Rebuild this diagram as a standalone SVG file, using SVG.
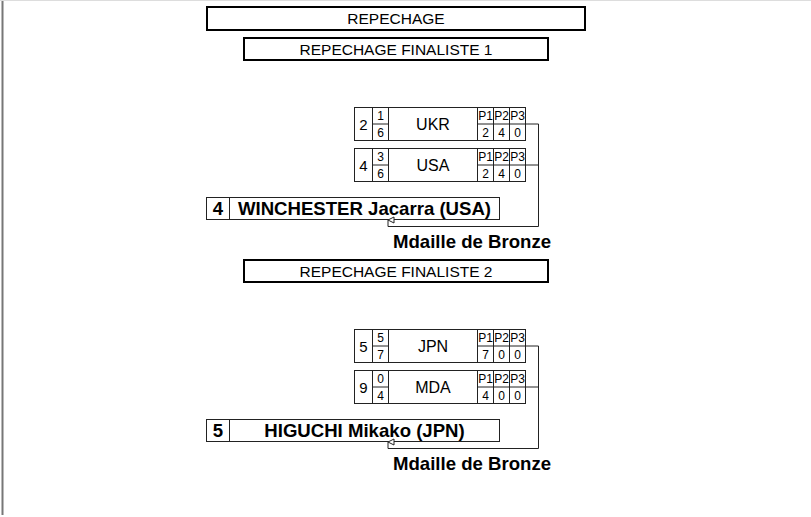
<svg xmlns="http://www.w3.org/2000/svg" width="811" height="517" viewBox="0 0 811 517">
<style>
.hdr{fill:#fff;stroke:#000;stroke-width:2}
.cell{fill:#fff;stroke:#222;stroke-width:1}
.t{font-family:"Liberation Sans",Arial,sans-serif;fill:#000;text-anchor:middle}
.h{font-size:15.5px}
.seed{font-size:15px}
.fr{font-size:12px}
.cty{font-size:16px}
.p{font-size:12px}
.nm{font-size:18.6px;font-weight:bold}
.conn{fill:none;stroke:#222;stroke-width:1}
</style>
<defs>
<marker id="arr" viewBox="0 0 8 8" refX="4" refY="1" markerWidth="8" markerHeight="8" markerUnits="userSpaceOnUse" orient="auto-start-reverse">
<path d="M1,7 L4,1 L7,7 Z" fill="#fff" stroke="#222" stroke-width="1"/>
</marker>
</defs>
<rect x="0" y="0" width="811" height="517" fill="#fff"/>
<line x1="0" y1="0.5" x2="811" y2="0.5" stroke="#ddd" stroke-width="1"/>
<line x1="2.5" y1="1" x2="2.5" y2="515" stroke="#777" stroke-width="2"/>

<g id="title">
<rect class="hdr" x="207" y="7" width="378" height="23"/>
<text class="t h" x="396" y="24">REPECHAGE</text>
</g>
<g id="header1">
<rect class="hdr" x="244" y="38" width="304" height="22"/>
<text class="t h" x="396" y="55">REPECHAGE FINALISTE 1</text>
</g>

<g id="ukr">
<rect class="cell" x="354.5" y="107.5" width="18" height="33"/>
<rect class="cell" x="372.5" y="107.5" width="16" height="33"/>
<line class="cell" x1="372.5" y1="124" x2="388.5" y2="124"/>
<rect class="cell" x="388.5" y="107.5" width="89" height="33"/>
<rect class="cell" x="477.5" y="107.5" width="16" height="33"/>
<rect class="cell" x="493.5" y="107.5" width="16" height="33"/>
<rect class="cell" x="509.5" y="107.5" width="16" height="33"/>
<line class="cell" x1="477.5" y1="124" x2="525.5" y2="124"/>
<text class="t seed" x="363.5" y="129.5">2</text>
<text class="t fr" x="380.5" y="120">1</text>
<text class="t fr" x="380.5" y="137">6</text>
<text class="t cty" x="433" y="130">UKR</text>
<text class="t p" x="485.5" y="120">P1</text>
<text class="t p" x="501.5" y="120">P2</text>
<text class="t p" x="517.5" y="120">P3</text>
<text class="t p" x="485.5" y="137">2</text>
<text class="t p" x="501.5" y="137">4</text>
<text class="t p" x="517.5" y="137">0</text>
</g>

<g id="usa">
<rect class="cell" x="354.5" y="148.5" width="18" height="33"/>
<rect class="cell" x="372.5" y="148.5" width="16" height="33"/>
<line class="cell" x1="372.5" y1="165" x2="388.5" y2="165"/>
<rect class="cell" x="388.5" y="148.5" width="89" height="33"/>
<rect class="cell" x="477.5" y="148.5" width="16" height="33"/>
<rect class="cell" x="493.5" y="148.5" width="16" height="33"/>
<rect class="cell" x="509.5" y="148.5" width="16" height="33"/>
<line class="cell" x1="477.5" y1="165" x2="525.5" y2="165"/>
<text class="t seed" x="363.5" y="170.5">4</text>
<text class="t fr" x="380.5" y="161">3</text>
<text class="t fr" x="380.5" y="178">6</text>
<text class="t cty" x="433" y="171">USA</text>
<text class="t p" x="485.5" y="161">P1</text>
<text class="t p" x="501.5" y="161">P2</text>
<text class="t p" x="517.5" y="161">P3</text>
<text class="t p" x="485.5" y="178">2</text>
<text class="t p" x="501.5" y="178">4</text>
<text class="t p" x="517.5" y="178">0</text>
</g>

<g id="winner1">
<rect class="cell" x="206.5" y="197.5" width="293" height="22"/>
<line class="cell" x1="229.5" y1="197.5" x2="229.5" y2="219.5"/>
<text class="t nm" x="218" y="215">4</text>
<text class="t nm" x="364.5" y="215">WINCHESTER Jacarra (USA)</text>
</g>
<g id="bronze1">
<text class="t nm" x="472" y="248">Mdaille de Bronze</text>
</g>

<g id="header2">
<rect class="hdr" x="244" y="260" width="304" height="22"/>
<text class="t h" x="396" y="277">REPECHAGE FINALISTE 2</text>
</g>

<g id="jpn">
<rect class="cell" x="354.5" y="329.5" width="18" height="33"/>
<rect class="cell" x="372.5" y="329.5" width="16" height="33"/>
<line class="cell" x1="372.5" y1="346" x2="388.5" y2="346"/>
<rect class="cell" x="388.5" y="329.5" width="89" height="33"/>
<rect class="cell" x="477.5" y="329.5" width="16" height="33"/>
<rect class="cell" x="493.5" y="329.5" width="16" height="33"/>
<rect class="cell" x="509.5" y="329.5" width="16" height="33"/>
<line class="cell" x1="477.5" y1="346" x2="525.5" y2="346"/>
<text class="t seed" x="363.5" y="351.5">5</text>
<text class="t fr" x="380.5" y="342">5</text>
<text class="t fr" x="380.5" y="359">7</text>
<text class="t cty" x="433" y="352">JPN</text>
<text class="t p" x="485.5" y="342">P1</text>
<text class="t p" x="501.5" y="342">P2</text>
<text class="t p" x="517.5" y="342">P3</text>
<text class="t p" x="485.5" y="359">7</text>
<text class="t p" x="501.5" y="359">0</text>
<text class="t p" x="517.5" y="359">0</text>
</g>

<g id="mda">
<rect class="cell" x="354.5" y="370.5" width="18" height="33"/>
<rect class="cell" x="372.5" y="370.5" width="16" height="33"/>
<line class="cell" x1="372.5" y1="387" x2="388.5" y2="387"/>
<rect class="cell" x="388.5" y="370.5" width="89" height="33"/>
<rect class="cell" x="477.5" y="370.5" width="16" height="33"/>
<rect class="cell" x="493.5" y="370.5" width="16" height="33"/>
<rect class="cell" x="509.5" y="370.5" width="16" height="33"/>
<line class="cell" x1="477.5" y1="387" x2="525.5" y2="387"/>
<text class="t seed" x="363.5" y="392.5">9</text>
<text class="t fr" x="380.5" y="383">0</text>
<text class="t fr" x="380.5" y="400">4</text>
<text class="t cty" x="433" y="393">MDA</text>
<text class="t p" x="485.5" y="383">P1</text>
<text class="t p" x="501.5" y="383">P2</text>
<text class="t p" x="517.5" y="383">P3</text>
<text class="t p" x="485.5" y="400">4</text>
<text class="t p" x="501.5" y="400">0</text>
<text class="t p" x="517.5" y="400">0</text>
</g>

<g id="winner2">
<rect class="cell" x="206.5" y="419.5" width="293" height="22"/>
<line class="cell" x1="229.5" y1="419.5" x2="229.5" y2="441.5"/>
<text class="t nm" x="218" y="437">5</text>
<text class="t nm" x="364.5" y="437">HIGUCHI Mikako (JPN)</text>
</g>
<g id="bronze2">
<text class="t nm" x="472" y="470">Mdaille de Bronze</text>
</g>

<g id="connectors">
<path class="conn" d="M525.5,124 H538.5 V226.5 H388 V220" marker-end="url(#arr)"/>
<line class="conn" x1="525.5" y1="165" x2="538.5" y2="165"/>
<path class="conn" d="M525.5,346 H538.5 V448.5 H388 V442" marker-end="url(#arr)"/>
<line class="conn" x1="525.5" y1="387" x2="538.5" y2="387"/>
</g>
</svg>
